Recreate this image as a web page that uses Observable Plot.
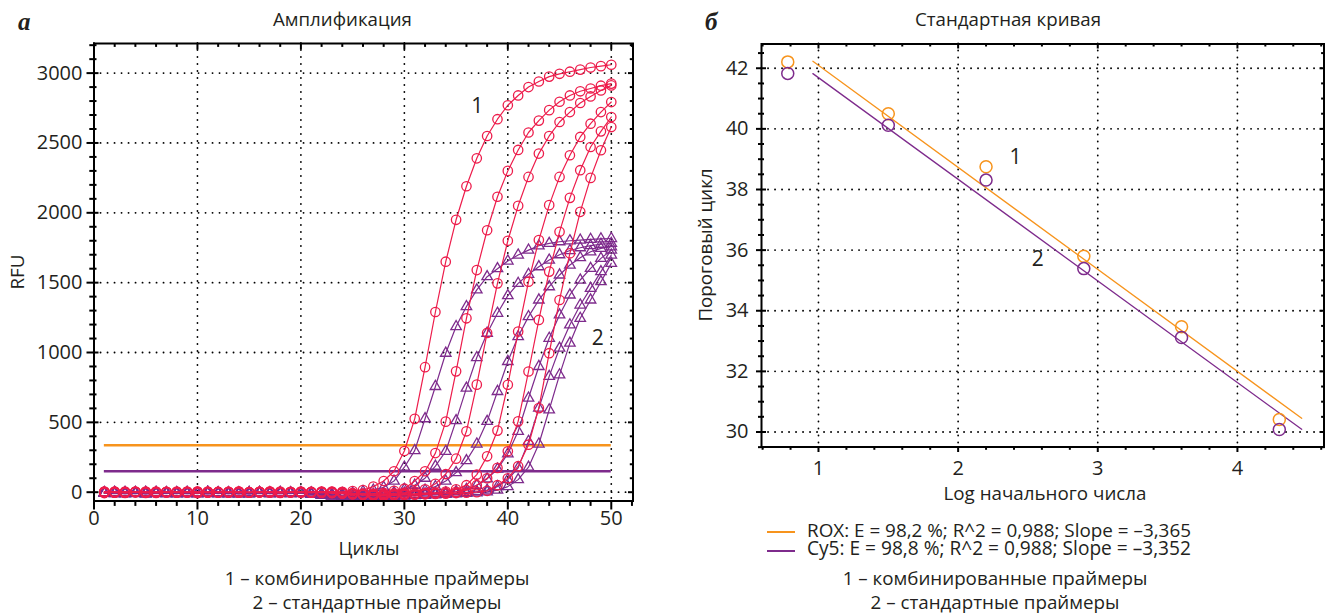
<!DOCTYPE html>
<html><head><meta charset="utf-8">
<script src="https://cdn.jsdelivr.net/npm/d3@7"></script>
<script src="https://cdn.jsdelivr.net/npm/@observablehq/plot@0.6"></script>
<style>
body{margin:0;background:#fff;}
#root{position:relative;width:1325px;height:615px;overflow:hidden;font-family:"Open Sans",sans-serif;color:#231f20;}
.abs{position:absolute;white-space:nowrap;line-height:1;}
.panel{position:absolute;}
.letter{font-family:"Liberation Serif",serif;font-weight:bold;font-style:italic;}
</style></head><body><div id="root"></div>
<script>
// ---------- DATA: amplification (panel a) ----------
const cycles = [1,2,3,4,5,6,7,8,9,10,11,12,13,14,15,16,17,18,19,20,21,22,23,24,25,26,27,28,29,30,31,32,33,34,35,36,37,38,39,40,41,42,43,44,45,46,47,48,49,50];
// combined primers (1), ROX, circles
const red1 = [-6,2,-3,0,4,-2,1,-4,3,0,-3,2,-1,4,-2,0,3,-4,1,-2,2,5,0,3,8,15,40,80,150,295,525,895,1290,1650,1950,2190,2390,2550,2670,2770,2840,2900,2940,2975,2995,3010,3025,3040,3050,3060];
const red2 = [3,-4,0,5,-2,-5,2,0,-3,4,1,-2,3,-4,0,2,-1,-5,3,1,-3,0,4,-2,-8,-12,-10,-5,10,25,80,150,280,505,865,1245,1590,1875,2115,2300,2450,2575,2660,2735,2795,2840,2870,2890,2910,2925];
const red3 = [-2,4,-5,1,3,-3,0,5,-1,-4,2,0,-3,4,-2,1,5,-4,0,3,-1,-3,2,0,-6,-10,-14,-12,-8,-4,5,20,60,130,240,436,770,1140,1495,1800,2050,2257,2424,2550,2650,2721,2786,2833,2876,2912];
const red4 = [4,0,-3,2,-5,3,1,-2,0,4,-4,2,-1,3,0,-3,5,-2,1,-4,2,0,-3,-6,-12,-16,-20,-18,-15,-12,-10,-6,-2,5,20,50,126,257,441,769,1150,1507,1805,2055,2257,2412,2543,2638,2721,2793];
const red5 = [-3,2,5,-1,-4,0,3,-2,4,-5,1,-3,2,0,-4,3,-1,5,-2,0,-3,2,-5,-8,-14,-18,-22,-25,-20,-18,-15,-12,-8,-4,2,15,50,100,174,293,507,864,1233,1579,1864,2107,2305,2471,2583,2686];
const red6 = [2,-4,0,3,-2,5,-3,1,0,-5,4,-1,2,-3,0,3,-4,1,-2,4,0,-3,-6,-10,-15,-20,-24,-26,-22,-20,-18,-15,-12,-10,-6,-3,0,10,50,100,186,340,602,995,1376,1710,2007,2250,2448,2614];
// standard primers (2), Cy5, triangles
const pur1 = [-8,-3,-10,-5,-2,-9,-4,-7,-1,-6,-10,-3,-5,-8,-2,-6,-9,-4,-7,-3,-5,-8,-12,-10,-6,5,15,35,80,179,298,526,757,995,1186,1329,1448,1543,1600,1655,1698,1733,1764,1781,1793,1800,1805,1810,1814,1816];
const pur2 = [-5,-9,-2,-7,-11,-4,-8,-3,-10,-6,-2,-9,-5,-12,-7,-3,-8,-10,-4,-6,-9,-14,-18,-22,-25,-20,-16,-10,-2,20,50,100,186,293,512,745,964,1138,1281,1407,1495,1560,1614,1662,1700,1730,1750,1765,1775,1781];
const pur3 = [-7,-3,-10,-5,-8,-2,-6,-11,-4,-9,-3,-7,-12,-5,-8,-2,-10,-6,-4,-9,-13,-18,-24,-28,-30,-27,-22,-18,-12,-6,2,15,40,80,140,226,345,507,721,936,1114,1257,1376,1471,1555,1626,1679,1721,1745,1757];
const pur4 = [-4,-9,-6,-2,-10,-7,-3,-8,-5,-11,-2,-6,-9,-4,-12,-7,-3,-8,-10,-5,-14,-20,-26,-30,-34,-32,-30,-27,-24,-20,-16,-12,-8,-4,5,20,50,95,165,275,436,674,900,1102,1269,1412,1519,1602,1674,1733];
const pur5 = [-6,-2,-9,-5,-11,-3,-7,-10,-4,-8,-2,-9,-6,-12,-3,-7,-10,-5,-8,-4,-15,-22,-28,-32,-36,-35,-33,-30,-28,-25,-22,-18,-14,-10,-6,-2,5,15,40,90,174,364,602,829,1031,1198,1340,1459,1579,1698];
const pur6 = [-3,-8,-5,-10,-2,-7,-11,-4,-9,-6,-3,-10,-5,-8,-12,-4,-7,-2,-9,-6,-12,-18,-25,-30,-34,-38,-36,-34,-31,-28,-25,-22,-19,-16,-12,-8,-4,2,15,40,90,179,345,590,840,1067,1245,1376,1507,1638];
const thresholdNames = ["ROX", "Cy5"];
const thresholdValues = [336, 150];
const ampXTicks = [0,10,20,30,40,50];
const ampYTicks = [0,500,1000,1500,2000,2500,3000];
const ampLabels = ["1","2"];
const ampLabelCycle = [37.05, 48.7];
const ampLabelRfu = [2766, 1100];

// ---------- DATA: standard curve (panel б) ----------
const logQty = [0.78, 1.50, 2.20, 2.90, 3.60, 4.30];
const ctROX = [42.21, 40.50, 38.75, 35.80, 33.47, 30.41];
const ctCy5 = [41.83, 40.12, 38.31, 35.39, 33.12, 30.08];
const fitNames = ["ROX", "Cy5"];
const fitRange = [0.96, 4.46];
const fitSlope = [-3.365, -3.352];
const fitIntercept = [45.46, 45.04];
const legendText = ["ROX: E = 98,2 %; R^2 = 0,988; Slope = –3,365", "Cy5: E = 98,8 %; R^2 = 0,988; Slope = –3,352"];
const stdXTicks = [1,2,3,4];
const stdYTicks = [30,32,34,36,38,40,42];
const stdLabels = ["1","2"];
const stdLabelX = [2.41, 2.57];
const stdLabelY = [39.07, 35.7];

const captions = ["1 – комбинированные праймеры", "2 – стандартные праймеры"];

// ---------- styles ----------
const RED = "#ed1c4b", PURPLE = "#7e2b8c", ORANGE = "#f7941d", INK = "#231f20";
const FONT = '"Open Sans", sans-serif';
const root = document.getElementById("root");
const grid = {stroke: "#000", strokeOpacity: 1, strokeWidth: 1.8, strokeDasharray: "0.1,6.9", strokeLinecap: "round"};
const intFmt = d3.format("d");

// short tick marks crossing the frame, expressed through the scales (pixel lengths converted to data units)
function frameTicks(xDom, yDom, pw, ph, xMaj, xMin, yMaj, yMin, s) {
  const kx = pw / (xDom[1] - xDom[0]);
  const ky = ph / (yDom[1] - yDom[0]);
  const [L, R] = xDom, [B, T] = yDom;
  const st = {stroke: "#000", strokeWidth: 2, strokeOpacity: 1};
  const m = 0.6;
  const out = [];
  [[yMaj, 1], [yMin, m]].forEach(([data, f]) => {
    out.push(Plot.ruleY(data, {y: d => d, x1: () => L - s.lo * f / kx, x2: () => L + s.li * f / kx, ...st}));
    out.push(Plot.ruleY(data, {y: d => d, x1: () => R - s.ri * f / kx, x2: () => R + s.ro * f / kx, ...st}));
  });
  [[xMaj, 1], [xMin, m]].forEach(([data, f]) => {
    out.push(Plot.ruleX(data, {x: d => d, y1: () => B - s.bo * f / ky, y2: () => B + s.bi * f / ky, ...st}));
    out.push(Plot.ruleX(data, {x: d => d, y1: () => T - s.ti * f / ky, y2: () => T + s.to * f / ky, ...st}));
  });
  return out;
}

// ---------- panel a ----------
{
  const W = 660, H = 540, ml = 93.5, mr = 27.5, mt = 43, mb = 39.5;
  const pw = W - ml - mr, ph = H - mt - mb;
  const xDom = [0, 52.1], yDom = [-63, 3212];
  const redSets = [red1, red2, red3, red4, red5, red6];
  const purSets = [pur1, pur2, pur3, pur4, pur5, pur6];
  const redRows = redSets.flatMap((vals, k) => vals.map((v, i) => ({cycle: cycles[i], rfu: v, curve: "r" + k})));
  const purRows = purSets.flatMap((vals, k) => vals.map((v, i) => ({cycle: cycles[i], rfu: v, curve: "p" + k})));
  const xMin = d3.range(2, 53, 2).filter(v => v % 10 !== 0);
  const yMin = d3.range(0, 3201, 100).filter(v => v % 500 !== 0);
  const thr = thresholdValues.map((v, k) => ({name: thresholdNames[k], value: v}));
  const lab = ampLabels.map((t, k) => ({t, x: ampLabelCycle[k], y: ampLabelRfu[k]}));
  const svg = Plot.plot({
    width: W, height: H, marginLeft: ml, marginRight: mr, marginTop: mt, marginBottom: mb,
    x: {domain: xDom},
    y: {domain: yDom},
    style: {fontFamily: FONT, fontSize: "20px", color: INK, background: "transparent", overflow: "visible"},
    marks: [
      Plot.gridX(ampXTicks, grid),
      Plot.gridY(ampYTicks, grid),
      Plot.ruleY(thr, {y: "value", x1: () => cycles[0], x2: () => cycles[cycles.length - 1], stroke: d => d.name === "ROX" ? ORANGE : PURPLE, strokeWidth: 2.6}),
      Plot.line(purRows, {x: "cycle", y: "rfu", z: "curve", stroke: PURPLE, strokeWidth: 1.2}),
      Plot.dot(purRows, {x: "cycle", y: "rfu", symbol: "triangle", r: 3.9, fill: "none", stroke: PURPLE, strokeWidth: 1.3}),
      Plot.line(redRows, {x: "cycle", y: "rfu", z: "curve", stroke: RED, strokeWidth: 1.2}),
      Plot.dot(redRows, {x: "cycle", y: "rfu", symbol: "circle", r: 4.7, fill: "none", stroke: RED, strokeWidth: 1.3}),
      ...frameTicks(xDom, yDom, pw, ph, ampXTicks, xMin, ampYTicks, yMin, {lo: 7, li: 5, ro: 1.5, ri: 4.5, bo: 9, bi: 0, to: 0, ti: 6.5}),
      Plot.frame({stroke: "#000", strokeWidth: 2}),
      Plot.axisX(ampXTicks, {tickSize: 0, tickPadding: 10, tickFormat: intFmt, label: null}),
      Plot.axisY(ampYTicks, {tickSize: 0, tickPadding: 11.5, tickFormat: intFmt, label: null}),
      Plot.text(lab, {x: "x", y: "y", text: "t", fontSize: 21, fill: INK})
    ]
  });
  const div = document.createElement("div");
  div.className = "panel"; div.style.left = "0px"; div.style.top = "0px";
  div.appendChild(svg); root.appendChild(div);
}

// ---------- panel б ----------
{
  const W = 645, H = 505, ml = 81, mr = 1.5, mt = 43.5, mb = 58.5;
  const pw = W - ml - mr, ph = H - mt - mb;
  const xDom = [0.592, 4.62], yDom = [29.505, 42.80];
  const pts = logQty.flatMap((x, i) => [{dye: "ROX", x, y: ctROX[i]}, {dye: "Cy5", x, y: ctCy5[i]}]);
  const fits = fitNames.flatMap((name, k) => fitRange.map(x => ({dye: name, x, y: fitIntercept[k] + fitSlope[k] * x})));
  const xMin = d3.range(6, 47, 2).map(v => v / 10).filter(v => v % 1 !== 0);
  const yMin = d3.range(59, 86, 1).map(v => v / 2).filter(v => v % 2 !== 0);
  const lab = stdLabels.map((t, k) => ({t, x: stdLabelX[k], y: stdLabelY[k]}));
  const col = d => d.dye === "ROX" ? ORANGE : PURPLE;
  const svg = Plot.plot({
    width: W, height: H, marginLeft: ml, marginRight: mr, marginTop: mt, marginBottom: mb,
    x: {domain: xDom},
    y: {domain: yDom},
    style: {fontFamily: FONT, fontSize: "20px", color: INK, background: "transparent", overflow: "visible"},
    marks: [
      Plot.gridX(stdXTicks, grid),
      Plot.gridY(stdYTicks, grid),
      Plot.line(fits, {x: "x", y: "y", z: "dye", stroke: col, strokeWidth: 1.3}),
      Plot.dot(pts, {x: "x", y: "y", r: 6, fill: "none", stroke: col, strokeWidth: 1.5}),
      ...frameTicks(xDom, yDom, pw, ph, stdXTicks, xMin, stdYTicks, yMin, {lo: 5, li: 5, ro: 2, ri: 4, bo: 5.5, bi: 0, to: 0, ti: 5}),
      Plot.frame({stroke: "#000", strokeWidth: 2}),
      Plot.axisX(stdXTicks, {tickSize: 0, tickPadding: 14, tickFormat: intFmt, label: null}),
      Plot.axisY(stdYTicks, {tickSize: 0, tickPadding: 13, tickFormat: intFmt, label: null}),
      Plot.text(lab, {x: "x", y: "y", text: "t", fontSize: 21, fill: INK})
    ]
  });
  const div = document.createElement("div");
  div.className = "panel"; div.style.left = "680px"; div.style.top = "0px";
  div.appendChild(svg); root.appendChild(div);
}

// ---------- HTML texts ----------
function put(text, x, y, size, anchor = "middle", extra = {}) {
  const el = document.createElement("div");
  el.className = "abs" + (extra.cls ? " " + extra.cls : "");
  el.textContent = text;
  el.style.left = x + "px"; el.style.top = y + "px";
  el.style.fontSize = size + "px";
  root.appendChild(el);
  if (extra.fitWidth) {
    const w = el.getBoundingClientRect().width;
    if (w > 0) el.style.fontSize = (size * extra.fitWidth / w).toFixed(2) + "px";
  }
  if (extra.lh) el.style.lineHeight = extra.lh;
  const tx = anchor === "middle" ? "-50%" : anchor === "end" ? "-100%" : "0";
  el.style.transform = `translate(${tx},-50%)` + (extra.rotate ? " rotate(-90deg)" : "");
  return el;
}
put("а", 18, 21, 25, "start", {cls: "letter"});
put("б", 705, 21, 25, "start", {cls: "letter"});
const tl = put("Стандартная кривая", 1008, 19, 17.5, "middle", {fitWidth: 186});
const titleSize = parseFloat(tl.style.fontSize);
put("Амплификация", 273, 19, titleSize, "start");
const ll = put("Log начального числа", 1045, 493, 17.5, "middle", {fitWidth: 203});
const labSize = parseFloat(ll.style.fontSize);
put("RFU", 17, 272, labSize, "middle", {rotate: true});
put("Пороговый цикл", 705, 245, labSize, "middle", {rotate: true});
put("Циклы", 369, 548, 18, "middle", {fitWidth: 61});
const c1 = put(captions[0], 377, 578, 18, "middle", {fitWidth: 305});
const capSize = parseFloat(c1.style.fontSize);
put(captions[1], 377, 601.5, capSize, "middle");
put(captions[0], 995, 578, capSize, "middle");
put(captions[1], 995, 601.5, capSize, "middle");
// legend
legendText.forEach((t, k) => {
  const y = 530 + k * 19;
  const seg = document.createElement("div");
  seg.style.cssText = `position:absolute;left:767px;top:${y + 1}px;width:28px;height:2px;background:${k === 0 ? ORANGE : PURPLE};`;
  root.appendChild(seg);
  put(t, 807, y, 18, "start", {fitWidth: 384, lh: 0.9});
});
</script></body></html>
